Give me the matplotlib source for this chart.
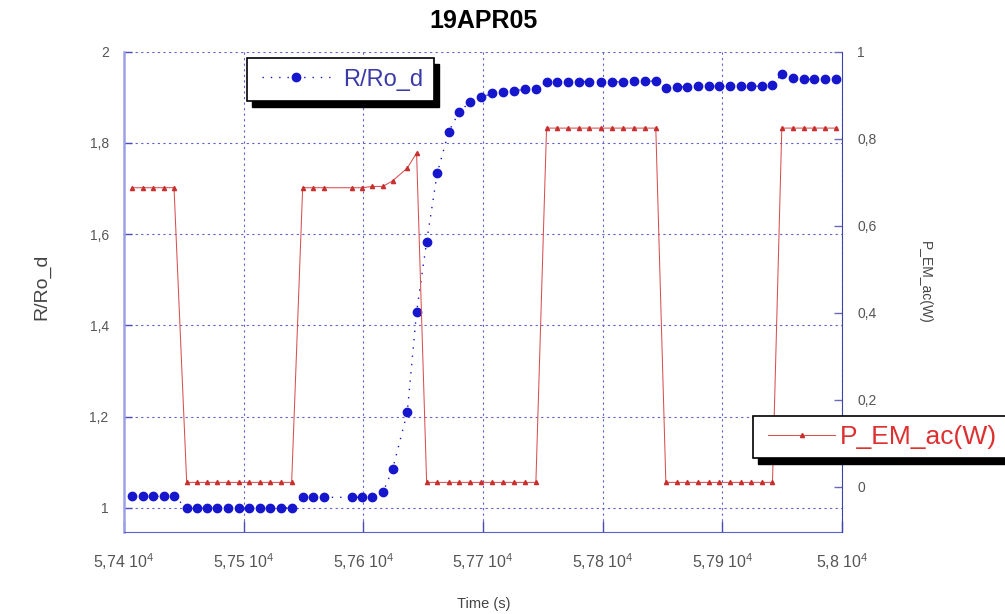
import matplotlib
matplotlib.use("Agg")
import matplotlib.pyplot as plt
from matplotlib.patches import Rectangle
from matplotlib.legend_handler import HandlerLine2D

plt.rcParams['font.family'] = ['Liberation Sans', 'DejaVu Sans']
plt.rcParams['mathtext.fontset'] = 'custom'
plt.rcParams['mathtext.rm'] = 'Liberation Sans'

# ---------------- data ----------------
time_s = [57406.7, 57415.9, 57424.2, 57433.4, 57441.8,
          57452.4, 57460.7, 57469.6, 57477.9, 57487.1, 57496.1, 57504.4, 57513.6, 57522.0, 57531.2, 57540.1,
          57549.3, 57558.1, 57567.1,
          57590.9, 57599.1, 57607.2, 57616.4,
          57624.5, 57636.7, 57644.5, 57652.9, 57661.7, 57671.3, 57680.1, 57689.1, 57698.4, 57707.9,
          57716.9, 57726.1, 57735.2, 57744.2,
          57753.1, 57762.0, 57770.9, 57779.9, 57788.7, 57798.2, 57807.7, 57816.6, 57826.1, 57835.3, 57844.4,
          57852.8, 57861.7, 57870.6, 57879.5, 57888.5, 57897.3, 57906.3, 57915.2, 57924.1, 57933.0,
          57941.9,
          57949.7, 57959.1, 57968.1, 57977.0, 57985.9, 57994.8]

ratio_R_Ro_d = [1.025, 1.025, 1.025, 1.025, 1.025,
                1.000, 1.000, 1.000, 1.000, 1.000, 1.000, 1.000, 1.000, 1.000, 1.000, 1.000,
                1.023, 1.023, 1.023,
                1.023, 1.023, 1.023, 1.034,
                1.085, 1.209, 1.429, 1.583, 1.733, 1.824, 1.868, 1.889, 1.900, 1.908,
                1.911, 1.914, 1.917, 1.918,
                1.933, 1.934, 1.934, 1.934, 1.934, 1.933, 1.933, 1.934, 1.935, 1.935, 1.935,
                1.919, 1.922, 1.923, 1.924, 1.924, 1.924, 1.924, 1.924, 1.924, 1.924,
                1.927,
                1.950, 1.942, 1.939, 1.939, 1.939, 1.939]

power_EM_ac_W = [0.687, 0.687, 0.687, 0.687, 0.687,
                 0.010, 0.010, 0.010, 0.010, 0.010, 0.010, 0.010, 0.010, 0.010, 0.010, 0.010,
                 0.687, 0.687, 0.687,
                 0.687, 0.687, 0.690, 0.690,
                 0.703, 0.732, 0.767, 0.010, 0.010, 0.010, 0.010, 0.010, 0.010, 0.010,
                 0.010, 0.010, 0.010, 0.010,
                 0.824, 0.824, 0.824, 0.824, 0.824, 0.824, 0.824, 0.824, 0.824, 0.824, 0.824,
                 0.010, 0.010, 0.010, 0.010, 0.010, 0.010, 0.010, 0.010, 0.010, 0.010,
                 0.010,
                 0.824, 0.824, 0.824, 0.824, 0.824, 0.824]

x_ticks = [57400, 57500, 57600, 57700, 57800, 57900, 58000]
x_tick_labels = [r'5,74 $\mathregular{10^4}$', r'5,75 $\mathregular{10^4}$', r'5,76 $\mathregular{10^4}$',
                 r'5,77 $\mathregular{10^4}$', r'5,78 $\mathregular{10^4}$', r'5,79 $\mathregular{10^4}$',
                 r'5,8 $\mathregular{10^4}$']
left_ticks = [1.0, 1.2, 1.4, 1.6, 1.8, 2.0]
left_tick_labels = ['1', '1,2', '1,4', '1,6', '1,8', '2']
right_ticks = [0.0, 0.2, 0.4, 0.6, 0.8, 1.0]
right_tick_labels = ['0', '0,2', '0,4', '0,6', '0,8', '1']

title = '19APR05'
x_label = 'Time (s)'
left_label = 'R/Ro_d'
right_label = 'P_EM_ac(W)'

# ---------------- figure ----------------
W, H = 1005, 614
fig = plt.figure(figsize=(W / 100, H / 100), dpi=100)
ax_l, ax_r, ax_t, ax_b = 124, 842, 51.5, 532
ax = fig.add_axes([ax_l / W, 1 - ax_b / H, (ax_r - ax_l) / W, (ax_b - ax_t) / H])
ax2 = ax.twinx()

blue = '#1616cc'
red = '#d85050'
grid_c = '#6262cc'
label_c = '#555555'

ln1, = ax.plot(time_s, ratio_R_Ro_d, linestyle=(0, (1, 5)), lw=1.0, color=blue,
               marker='o', ms=6, mfc=blue, mec=blue, label=left_label, zorder=3)
ln2, = ax2.plot(time_s, power_EM_ac_W, linestyle='-', lw=0.75, color=red,
                marker='^', ms=3.0, mfc='#c83030', mec='#c83030', label=right_label, zorder=3)

ax.set_xlim(57400, 58000)
ax.set_ylim(0.947, 2.0)
ax2.set_ylim(-0.104, 1.0)

ax.set_xticks(x_ticks)
ax.set_xticklabels(x_tick_labels)
ax.set_yticks(left_ticks)
ax.set_yticklabels(left_tick_labels)
ax2.set_yticks(right_ticks)
ax2.set_yticklabels(right_tick_labels)

ax.grid(True, color=grid_c, linestyle=(0, (2, 3)), lw=0.8)

ax.tick_params(axis='x', direction='in', length=8, width=1, color='#4a4ab8',
               labelsize=11.5, labelcolor=label_c, pad=14)
ax.tick_params(axis='y', direction='in', length=6, width=1, color='#4a4ab8',
               labelsize=10, labelcolor=label_c, pad=11)
ax2.tick_params(axis='y', direction='in', length=6, width=1, color='#6a6ab8',
                labelsize=10, labelcolor=label_c, pad=11)

for a in (ax, ax2):
    a.spines['top'].set_visible(False)
ax2.spines['left'].set_visible(False)
ax2.spines['bottom'].set_visible(False)
ax.spines['right'].set_visible(False)
ax.spines['left'].set_color('#9da0e8')
ax.spines['left'].set_linewidth(1.8)
ax.spines['bottom'].set_color('#5a64cc')
ax2.spines['right'].set_color('#3a44aa')

ax.set_title(title, fontsize=18, fontweight='bold', pad=17)
ax.set_xlabel(x_label, fontsize=10.5, color='#444444')
ax.xaxis.set_label_coords(0.501, -0.135)
ax.set_ylabel(left_label, fontsize=14, color='#444444', va='center')
ax.yaxis.set_label_coords(-0.114, 0.51)
ax2.set_ylabel(right_label, fontsize=10, color='#444444', rotation=-90, va='center')
ax2.yaxis.set_label_coords(1.1156, 0.52)

# ---------------- legends ----------------
leg1 = ax2.legend([ln1], [left_label], loc='upper left',
                  bbox_to_anchor=((247 - ax_l) / (ax_r - ax_l), (ax_b - 58) / (ax_b - ax_t)),
                  borderaxespad=0, fontsize=17, frameon=True, fancybox=False, framealpha=1,
                  edgecolor='black', handlelength=3.07, handletextpad=0.55, borderpad=0.45,
                  labelcolor='#3a3aa8', handler_map={ln1: HandlerLine2D(xpad=0.19)})
leg1.get_frame().set_linewidth(1.2)
ax2.add_artist(leg1)
leg2 = ax2.legend([ln2], [right_label], loc='upper left',
                  bbox_to_anchor=((753 - ax_l) / (ax_r - ax_l), (ax_b - 416) / (ax_b - ax_t)),
                  borderaxespad=0, fontsize=19, frameon=True, fancybox=False, framealpha=1,
                  edgecolor='black', handlelength=2.76, handletextpad=0.19, borderpad=0.35,
                  labelcolor='#dd3030', handler_map={ln2: HandlerLine2D(xpad=0.22)})
leg2.get_frame().set_linewidth(1.2)
for lg in (leg1, leg2):
    lg.set_zorder(10)

fig.canvas.draw()
inv = fig.transFigure.inverted()
for lg in (leg1, leg2):
    bb = lg.get_frame().get_window_extent()
    (x0, y0), (x1, y1) = inv.transform([[bb.x0 + 5, bb.y0 - 6], [bb.x1 + 5, bb.y1 - 6]])
    sh = Rectangle((x0, y0), x1 - x0, y1 - y0, transform=fig.transFigure,
                   facecolor='black', edgecolor='black', zorder=9.5, clip_on=False)
    ax2.add_artist(sh)

fig.savefig('out.png', dpi=100)
